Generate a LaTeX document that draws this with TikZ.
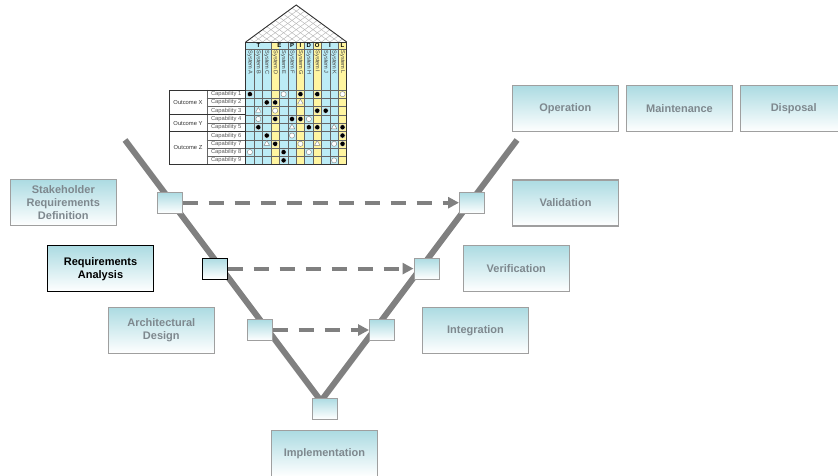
\documentclass[tikz,border=0pt]{standalone}
\usepackage{fontspec}
\setmainfont{Liberation Sans}
\usepackage{tikz}
\usetikzlibrary{calc,shapes,arrows.meta}
\definecolor{hqcyan}{RGB}{188,236,246}
\definecolor{hqyellow}{RGB}{255,245,160}
\definecolor{boxtop}{RGB}{172,219,226}
\definecolor{vgray}{RGB}{128,128,128}
\definecolor{txtgray}{RGB}{126,136,142}

\begin{document}
\begin{tikzpicture}[x=1pt,y=-1pt,
    lifebox/.style={draw=gray!75,line width=1.2pt,top color=boxtop,bottom color=white,minimum width=106pt,minimum height=46pt,inner sep=0pt,align=center,text=txtgray,font=\bfseries\fontsize{11}{13}\selectfont},
    gate/.style={draw=gray!75,line width=1pt,top color=boxtop,bottom color=white,minimum width=25pt,minimum height=21pt,inner sep=0pt},
    vline/.style={line width=6pt,vgray},
    flow/.style={line width=4pt,vgray,dash pattern=on 15pt off 11pt,-{Triangle[length=11pt,width=11pt]}},
    hqgrid/.style={gray!80!black,line width=0.35pt},
    hqedge/.style={black!80,line width=0.9pt},
    roofline/.style={gray!60,line width=0.4pt},
    hqhead/.style={inner sep=0pt,font=\bfseries\fontsize{6}{6}\selectfont},
    hqsys/.style={rotate=-90,anchor=west,inner sep=0.5pt,text=black!75,font=\fontsize{5.6}{6}\selectfont},
    hqcap/.style={inner sep=0pt,text=black!65,font=\fontsize{5.8}{6}\selectfont},
    hqout/.style={inner sep=0pt,text=black!80,font=\fontsize{5.8}{6}\selectfont},
    hqfull/.style={circle,fill=black,draw=white,line width=0.3pt,inner sep=0pt,minimum size=5.2pt},
    hqopen/.style={circle,fill=white,draw=gray,line width=0.4pt,inner sep=0pt,minimum size=5.2pt},
    hqtri/.style={regular polygon,regular polygon sides=3,fill=white,draw=gray,line width=0.4pt,inner sep=0pt,minimum size=6.4pt}]
    \clip (0,0) rectangle (838,476);
    \def\cw{8.42}
    \def\rh{8.28}

    % house of quality
    \foreach \c/\col in {0/hqcyan,1/hqcyan,2/hqcyan,3/hqyellow,4/hqcyan,5/hqcyan,6/hqyellow,7/hqcyan,8/hqyellow,9/hqcyan,10/hqcyan,11/hqyellow}
        \fill[\col] ({245.7+\c*\cw},42) rectangle ({245.7+(\c+1)*\cw},164.5);
    \foreach \c in {1,...,11}
        \draw[hqgrid] ({245.7+\c*\cw},49) -- ({245.7+\c*\cw},164.5);
    \foreach \c in {3,5,6,7,8,9,11}
        \draw[hqgrid] ({245.7+\c*\cw},42) -- ({245.7+\c*\cw},49);
    \draw[hqgrid] (245.7,49) -- (346.7,49);
    \foreach \r in {0,...,8}
        \draw[hqgrid] (245.7,{90+\r*\rh}) -- (346.7,{90+\r*\rh});
    \draw[hqedge] (245.7,42) rectangle (346.7,164.5);
    \foreach \l/\p [count=\i] in {T/1.5,E/4,P/5.5,I/6.5,D/7.5,O/8.5,I/10,L/11.5}
        \node[hqhead] (head\i) at ({245.7+\p*\cw},45.5) {\l};
    \foreach \s [count=\i from 0] in {A,...,L}
        \node[hqsys] (sys\s) at ({245.7+(\i+0.5)*\cw},50) {System \s};

    \begin{scope}
        \clip (245.7,42) -- (296.2,5) -- (346.7,42) -- cycle;
        \fill[white] (245.7,42) rectangle (346.7,5);
        \foreach \c in {0,...,12} {
            \draw[roofline] ({245.7+\c*\cw},42) -- ++(60,-44);
            \draw[roofline] ({245.7+\c*\cw},42) -- ++(-60,-44);
        }
    \end{scope}
    \draw[hqedge] (245.7,42) -- (296.2,5) -- (346.7,42);

    \fill[white] (169,90) rectangle (245.7,164.5);
    \draw[hqgrid] (206.7,90) -- (206.7,164.5);
    \foreach \r in {1,2,4,6,7,8}
        \draw[hqgrid] (206.7,{90+\r*\rh}) -- (245.7,{90+\r*\rh});
    \foreach \r in {3,5}
        \draw[hqedge] (169,{90+\r*\rh}) -- (245.7,{90+\r*\rh});
    \draw[hqedge] (169,90) rectangle (245.7,164.5);
    \foreach \r in {1,...,9}
        \node[hqcap] (cap\r) at (226.2,{90+(\r-0.5)*\rh}) {Capability \r};
    \node[hqout] (outX) at (188,{90+1.5*\rh}) {Outcome X};
    \node[hqout] (outY) at (188,{90+4*\rh}) {Outcome Y};
    \node[hqout] (outZ) at (188,{90+7*\rh}) {Outcome Z};

    \foreach \r/\c/\k in {1/1/full,1/5/open,1/7/full,1/9/full,1/12/open,
                          2/3/full,2/4/full,2/7/tri,
                          3/2/tri,3/4/open,3/9/full,3/10/full,
                          4/2/open,4/4/full,4/6/full,4/7/full,4/8/open,
                          5/2/full,5/6/tri,5/8/full,5/9/full,5/11/tri,5/12/full,
                          6/3/full,6/6/open,6/12/full,
                          7/3/tri,7/4/full,7/7/open,7/9/tri,7/11/open,7/12/full,
                          8/1/open,8/5/full,8/8/open,
                          9/5/full,9/11/open}
        \node[hq\k] (m\r-\c) at ({245.7+(\c-0.5)*\cw},{90+(\r-0.5)*\rh}) {};

    % the V
    \coordinate (vtopl) at (125,140);
    \coordinate (vtopr) at (517,140);
    \coordinate (vbot) at (321,401);
    \draw[vline] (vtopl) -- (vbot) -- (vtopr);

    \node[gate] (gl1) at (169.7,202.7) {};
    \node[gate,draw=black] (gl2) at (214.7,268.6) {};
    \node[gate] (gl3) at (259.5,330) {};
    \node[gate] (gr1) at (472,202.7) {};
    \node[gate] (gr2) at (426.5,268.6) {};
    \node[gate] (gr3) at (382,330) {};
    \node[gate] (gbot) at (324.5,408.5) {};

    \draw[flow] (gl1) -- (gr1);
    \draw[flow] (gl2) -- (gr2);
    \draw[flow] (gl3) -- (gr3);

    \node[lifebox] (stake) at (63.3,202.5) {Stakeholder\\Requirements\\Definition};
    \node[lifebox,draw=black,text=black] (reqan) at (100.5,268.8) {Requirements\\Analysis};
    \node[lifebox] (arch) at (161.3,330.3) {Architectural\\Design};
    \node[lifebox] (impl) at (324.5,453.7) {Implementation};
    \node[lifebox] (integ) at (475.5,330.3) {Integration};
    \node[lifebox] (verif) at (516.3,268.5) {Verification};
    \node[lifebox] (valid) at (565.5,203) {Validation};
    \node[lifebox] (oper) at (565.3,108.7) {Operation};
    \node[lifebox] (maint) at (679.5,108.7) {Maintenance};
    \node[lifebox] (dispo) at (793.7,108.7) {Disposal};
\end{tikzpicture}
\end{document}
